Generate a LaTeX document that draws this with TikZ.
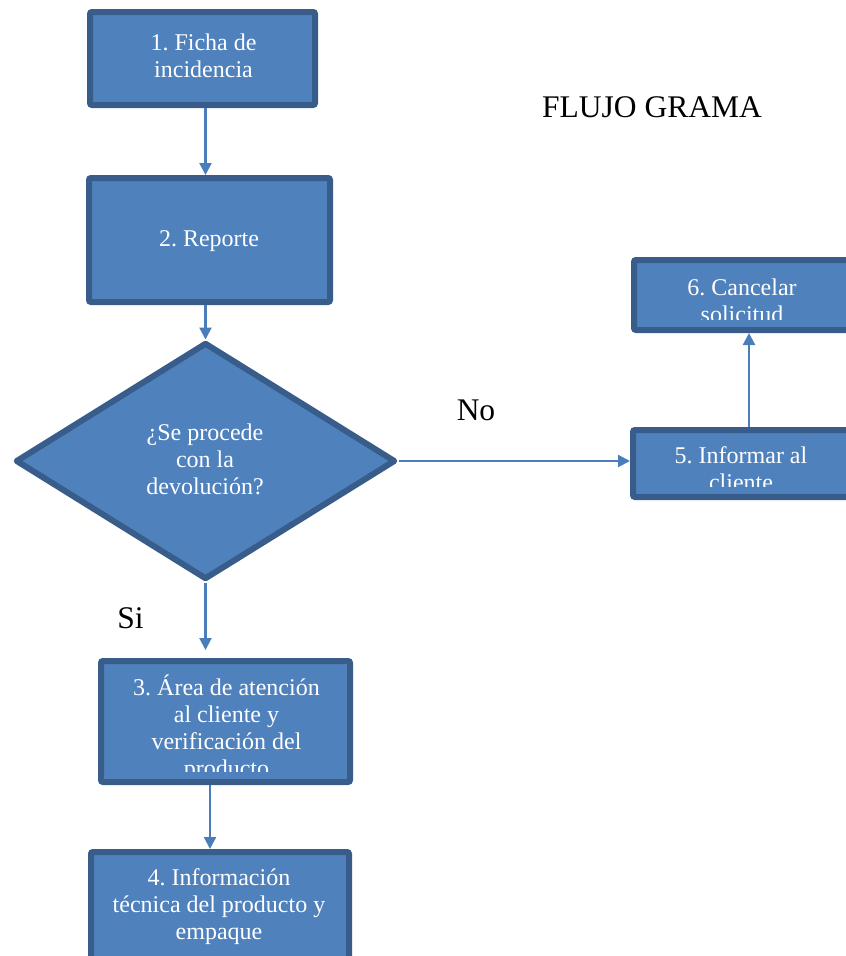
\documentclass[tikz,border=0pt]{standalone}
\usepackage{fontspec}
\setmainfont{Liberation Serif}
\frenchspacing
\usetikzlibrary{shapes.geometric,arrows.meta}
\definecolor{boxfill}{HTML}{4F81BD}
\definecolor{boxline}{HTML}{385D8A}
\definecolor{linkcol}{HTML}{4A7EBB}
\tikzset{
  stepbox/.style={rectangle, draw=boxline, fill=boxfill, line width=6pt,
    rounded corners=2pt, inner sep=0pt},
  decision/.style={diamond, draw=boxline, fill=boxfill, line width=6pt,
    line join=round, inner sep=0pt},
  % the base anchor of a multi-line text sits on its last baseline
  boxtext/.style={text=white, font=\fontsize{24}{27}\selectfont,
    align=center, inner sep=0pt, anchor=base},
  caption/.style={text=black, font=\fontsize{31.5}{36}\selectfont,
    inner sep=0pt, anchor=base},
  link/.style={draw=linkcol, line width=2.2pt,
    -{Triangle[length=12pt,width=12pt]}},
}
\begin{document}
\begin{tikzpicture}[x=1pt,y=-1pt]
\useasboundingbox (0,0) rectangle (846,956);
\clip (0,0) rectangle (846,956);

% process boxes and the decision
\node[stepbox, minimum width=225pt, minimum height=93pt]  (b1) at (202.5,58.5) {};
\node[stepbox, minimum width=241pt, minimum height=124pt] (b2) at (209.5,240) {};
\node[decision, minimum width=380pt, minimum height=237pt] (d)  at (205.5,461) {};
\node[stepbox, minimum width=249pt, minimum height=121pt] (b3) at (225.5,721.5) {};
\node[stepbox, minimum width=258pt, minimum height=114pt] (b4) at (220,909) {};
\node[stepbox, minimum width=216pt, minimum height=67pt]  (b5) at (741,463.5) {};
\node[stepbox, minimum width=216pt, minimum height=70pt]  (b6) at (742,295) {};

% texts inside the shapes
\node[boxtext] (t1) at (203.5,77) {1. Ficha de\\incidencia};
\node[boxtext] (t2) at (209,246) {2. Reporte};
\node[boxtext] (td) at (205,494) {¿Se procede\\con la\\devolución?};
\begin{scope}
  \clip (100,660) rectangle (352,771);
  \node[boxtext] (t3) at (226.5,776) {3. Área de atención\\al cliente y\\verificación del\\producto};
\end{scope}
\node[boxtext] (t4) at (219,939) {4. Información\\técnica del producto y\\empaque};
\begin{scope}
  \clip (632,430) rectangle (852,486);
  \node[boxtext] (t5) at (741,490) {5. Informar al\\cliente};
\end{scope}
\begin{scope}
  \clip (633,260) rectangle (852,319);
  \node[boxtext] (t6) at (742,322) {6. Cancelar\\solicitud};
\end{scope}

% free labels
\node[caption] (title) at (652,117) {FLUJO GRAMA};
\node[caption] (no)    at (476,420) {No};
\node[caption] (si)    at (130.5,628) {Si};

% connectors
\coordinate (c34) at (210,0);
\coordinate (c56) at (749,0);
\draw[link] (b1.south -| d.north) -- (b2.north -| d.north);
\draw[link] (b2.south -| d.north) -- (d.north);
\draw[link, shorten >=8pt] (d.south) -- (d.south |- b3.north);
\draw[link] (b3.south -| c34) -- (b4.north -| c34);
\draw[link] (d.east) -- (d.east -| b5.west);
\draw[link] (b5.north -| c56) -- (b6.south -| c56);
\end{tikzpicture}
\end{document}
